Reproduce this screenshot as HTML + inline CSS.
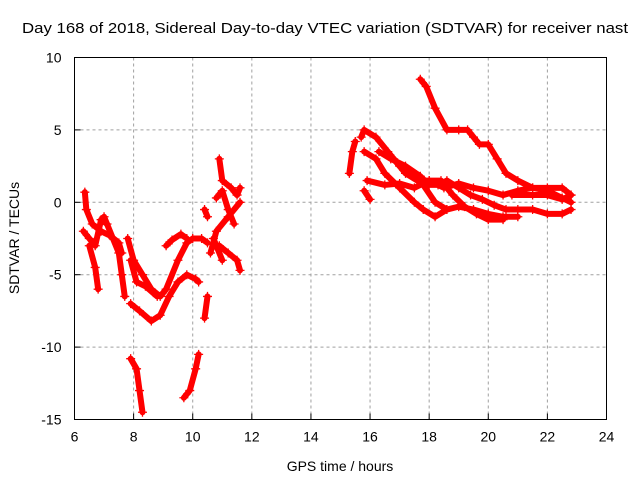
<!DOCTYPE html>
<html><head><meta charset="utf-8"><style>
body{margin:0;background:#fff}
svg{display:block;font-family:"Liberation Sans",sans-serif}
</style></head><body>
<svg id="chart" width="640" height="480" viewBox="0 0 640 480">
<text x="22" y="33" font-size="15" textLength="606" lengthAdjust="spacingAndGlyphs">Day 168 of 2018, Sidereal Day-to-day VTEC variation (SDTVAR) for receiver nast</text>
<g id="grid"></g>
<g id="data"></g>
<rect x="74.5" y="57.5" width="532" height="362" fill="none" stroke="#000" stroke-width="1"/>
<g id="axes"></g>
<text x="340" y="471" font-size="14" text-anchor="middle">GPS time / hours</text>
<text transform="translate(19,238) rotate(-90)" font-size="14" text-anchor="middle">SDTVAR / TECUs</text>
</svg>
<script>
const xTicks=[6,8,10,12,14,16,18,20,22,24];
const yTicks=[10,5,0,-5,-10,-15];
const tracks=[
[[6.35,0.7],[6.4,-0.5],[6.6,-1.5],[6.9,-2],[7.2,-2.3],[7.5,-2.8],[7.6,-3.5]],
[[6.3,-2],[6.5,-2.5],[6.7,-3],[6.9,-1.2],[7.1,-1.5]],
[[6.5,-3],[6.7,-4.5],[6.8,-6]],
[[7.0,-1],[7.3,-2.5],[7.5,-3.5],[7.6,-5],[7.7,-6.5]],
[[7.8,-2.5],[8.0,-4],[8.3,-5],[8.6,-6],[8.9,-6.5],[9.1,-6],[9.5,-4],[9.8,-2.8],[10.0,-2.5],[10.3,-2.5],[10.5,-2.8]],
[[7.9,-7],[8.2,-7.5],[8.6,-8.2],[8.9,-7.8],[9.2,-6.5],[9.5,-5.5],[9.8,-5],[10.1,-5.3],[10.2,-5.5]],
[[7.9,-4],[8.1,-5.5],[8.4,-5.8],[8.8,-6.5]],
[[9.1,-3],[9.3,-2.6],[9.6,-2.2],[9.8,-2.5]],
[[7.9,-10.8],[8.1,-11.5],[8.2,-13],[8.3,-14.5]],
[[9.7,-13.5],[9.9,-13],[10.1,-11.5],[10.2,-10.5]],
[[10.4,-8],[10.5,-6.5]],
[[10.4,-0.5],[10.5,-1]],
[[10.9,3],[11.0,1.5],[11.3,1],[11.5,0.5],[11.6,1]],
[[10.8,0.3],[11.0,0.8],[11.2,-0.5],[11.4,-1.5]],
[[10.7,-2.5],[10.8,-3],[11.0,-4]],
[[10.9,-3],[11.2,-3.5],[11.5,-4],[11.6,-4.7]],
[[10.6,-3.5],[10.8,-2],[11.2,-1],[11.6,0]],
[[15.3,2],[15.4,3.5],[15.5,4.2]],
[[15.7,4.5],[15.8,5],[16.2,4.5],[16.6,3.5],[17,2.5],[17.4,2],[17.8,1.2],[18.2,0],[18.6,-0.5],[19,-0.3],[19.5,-0.5],[20,-0.8],[20.5,-1],[21,-1]],
[[15.8,3.5],[16.2,3],[16.5,2],[17,1],[17.5,0],[17.8,-0.5],[18.2,-1],[18.6,-0.5]],
[[15.9,1.5],[16.5,1.2],[17,1.3],[17.5,1],[18,1.5],[18.4,1.5],[18.8,0.5],[19.2,-0.3],[19.6,-0.8],[20,-1.2],[20.5,-1.2]],
[[15.8,0.8],[16.0,0.2]],
[[16.3,3.5],[16.7,3],[17.2,2.5],[17.7,1.8],[18.0,1.2],[18.3,1.2],[18.6,1.5],[19,1],[19.4,0.5],[19.8,0.2],[20.2,-0.2],[20.6,-0.5],[21,-0.5],[21.5,-0.5],[22,-0.8],[22.5,-0.8],[22.8,-0.5]],
[[17.7,8.5],[17.9,8],[18.2,6.5],[18.6,5],[19,5],[19.3,5],[19.5,4.5],[19.7,4],[20,4],[20.3,3],[20.6,2],[21,1.5],[21.5,1],[22,1],[22.5,1],[22.8,0.5]],
[[16.8,3],[17.2,2],[17.6,1.5],[18,1.5],[18.5,1],[19,1.3],[19.5,1],[20,0.8],[20.5,0.5],[21,0.8],[21.5,1],[22,0.8],[22.5,0.3],[22.8,0]],
[[20.8,0.5],[21.5,0.5],[22,0.5],[22.5,0.2],[22.8,0.5]]
];
const X0=74.5,X1=606.5,Y0=57.5,Y1=419.5;
const sx=v=>X0+(v-6)/18*(X1-X0);
const sy=v=>Y0+(10-v)/25*(Y1-Y0);
const NS='http://www.w3.org/2000/svg';
const grid=document.getElementById('grid'),axes=document.getElementById('axes'),data=document.getElementById('data');
function mk(tag,attrs,parent){const e=document.createElementNS(NS,tag);for(const k in attrs)e.setAttribute(k,attrs[k]);parent.appendChild(e);return e;}
xTicks.forEach(t=>{const x=sx(t);
 if(t>6&&t<24){const g=mk('line',{x1:x,x2:x,y1:Y0,y2:Y1,stroke:'#a0a0a0','stroke-dasharray':'3,3'},grid);}
 const tk=mk('line',{x1:x,x2:x,y1:Y1,y2:Y1-6,stroke:'#000'},axes);
 const tx=mk('text',{x:x,y:Y1+22,'font-size':14,'text-anchor':'middle'},axes);tx.textContent=t;});
yTicks.forEach(t=>{const y=sy(t);
 if(t<10&&t>-15){const g=mk('line',{x1:X0,x2:X1,y1:y,y2:y,stroke:'#a0a0a0','stroke-dasharray':'3,3'},grid);}
 const tk=mk('line',{x1:X0,x2:X0+6,y1:y,y2:y,stroke:'#000'},axes);
 const tx=mk('text',{x:X0-13,y:y+5,'font-size':14,'text-anchor':'end'},axes);tx.textContent=t;});
tracks.forEach(tr=>{
 const pl=mk('polyline',{points:tr.map(p=>sx(p[0])+','+sy(p[1])).join(' '),fill:'none',stroke:'#f00','stroke-width':6,'stroke-linejoin':'round','stroke-linecap':'round'},data);
 
 
 tr.forEach(p=>{const x=sx(p[0]),y=sy(p[1]);
  const m=mk('path',{d:`M${x-4.5},${y}H${x+4.5}M${x},${y-4.5}V${y+4.5}`,stroke:'#f00','stroke-width':1.3},data);
  
  });
});
</script>
</body></html>
